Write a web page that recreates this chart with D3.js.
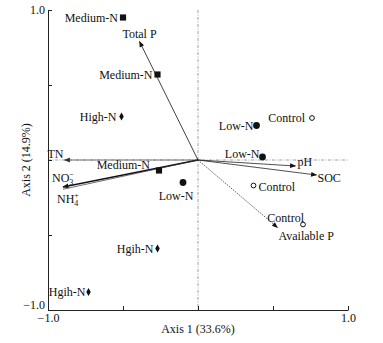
<!DOCTYPE html>
<html>
<head>
<meta charset="utf-8">
<script src="https://cdn.jsdelivr.net/npm/d3@7"></script>
<style>
  body { margin: 0; background: #fff; }
  text { font-family: "Liberation Serif", "Times New Roman", serif; fill: #111; }
</style>
</head>
<body>
<div class="ord-chart"></div>
<script>
// sample scores
const sampleNames = ["Medium-N", "Medium-N", "High-N", "Medium-N", "Low-N", "Hgih-N", "Hgih-N", "Control", "Low-N", "Low-N", "Control", "Control"];
const sampleGroups = ["medium", "medium", "high", "medium", "low", "high", "high", "control", "low", "low", "control", "control"];
const sampleAxis1 = [-0.50, -0.27, -0.51, -0.26, -0.10, -0.27, -0.73, 0.76, 0.39, 0.43, 0.37, 0.70];
const sampleAxis2 = [0.95, 0.57, 0.29, -0.07, -0.15, -0.59, -0.88, 0.28, 0.23, 0.02, -0.17, -0.43];

// environmental vectors
const envNames = ["Total P", "TN", "NO3", "NH4", "pH", "SOC", "Available P"];
const envAxis1 = [-0.39, -0.89, -0.90, -0.90, 0.65, 0.79, 0.53];
const envAxis2 = [0.79, 0.0, -0.18, -0.195, -0.04, -0.10, -0.45];

const tickValues = [-1, -0.5, 0, 0.5, 1];
const axis1Title = "Axis 1 (33.6%)";
const axis2Title = "Axis 2 (14.9%)";

// label placement [dx, dy, anchor]
const sampleLabelPos = [
  [-5, 4, "end"], [-5, 4, "end"], [-5, 4, "end"], [-9, -2, "end"], [-7, 17, "middle"],
  [-4, 4, "end"], [-3, 4, "end"], [-7, 4, "end"], [-3, 4, "end"], [-3, 1, "end"],
  [5, 5, "start"], [1, -3, "end"]
];
const envLabelPos = [
  [0, -4, "middle"], [-1, -2, "end"], [-11, -5, "start"], [-6, 14, "start"],
  [2, 0, "start"], [1, 7, "start"], [1, 12, "start"]
];
const envStyle = [
  { stroke: "#111", width: 0.8, dash: null },
  { stroke: "#555", width: 0.8, dash: null },
  { stroke: "#111", width: 1.3, dash: null },
  { stroke: "#333", width: 0.7, dash: null },
  { stroke: "#222", width: 0.8, dash: null },
  { stroke: "#222", width: 0.8, dash: null },
  { stroke: "#333", width: 0.8, dash: "1.5,1.2" }
];

const width = 383, height = 343;
const margin = { left: 48, top: 10, right: 35, bottom: 33 };

const svg = d3.select(".ord-chart").append("svg")
  .attr("width", width)
  .attr("height", height);

const x = d3.scaleLinear().domain([-1, 1]).range([margin.left, width - margin.right]);
const y = d3.scaleLinear().domain([-1, 1]).range([height - margin.bottom, margin.top]);

const fmt = d => (Math.abs(d) === 1 ? d3.format(".1f")(d) : "");

// zero lines
svg.append("line")
  .attr("x1", x(0)).attr("x2", x(0))
  .attr("y1", y(1)).attr("y2", y(-1))
  .attr("stroke", "#888").attr("stroke-width", 0.8)
  .attr("stroke-dasharray", "3,1.5,1,1.5");
svg.append("line")
  .attr("x1", x(-1)).attr("x2", x(1))
  .attr("y1", y(0)).attr("y2", y(0))
  .attr("stroke", "#888").attr("stroke-width", 0.8)
  .attr("stroke-dasharray", "3,1.5,1,1.5");

// axes
const xAxis = svg.append("g")
  .attr("transform", `translate(0,${y(-1)})`)
  .call(d3.axisBottom(x).tickValues(tickValues).tickFormat(fmt).tickSize(-4).tickSizeOuter(0).tickPadding(3));
const yAxis = svg.append("g")
  .attr("transform", `translate(${x(-1)},0)`)
  .call(d3.axisLeft(y).tickValues(tickValues).tickFormat(fmt).tickSize(-4).tickSizeOuter(0).tickPadding(3));

[xAxis, yAxis].forEach(g => {
  g.select(".domain").attr("stroke", "#222").attr("stroke-width", 1);
  g.selectAll(".tick line").attr("stroke", "#222");
  g.selectAll(".tick text").style("font-family", '"Liberation Serif", serif').style("font-size", "12px").attr("fill", "#111");
});
xAxis.selectAll(".tick text").attr("dy", "0.75em");
yAxis.selectAll(".tick text").attr("dy", d => (d === -1 ? "-0.15em" : "0.3em"));

svg.append("text")
  .attr("x", x(0)).attr("y", height - 10)
  .attr("text-anchor", "middle")
  .style("font-size", "12px")
  .text(axis1Title);
svg.append("text")
  .attr("transform", `translate(30,${y(0)}) rotate(-90)`)
  .attr("text-anchor", "middle")
  .style("font-size", "12px")
  .text(axis2Title);

// arrowhead marker
const defs = svg.append("defs");
envStyle.forEach((s, i) => {
  defs.append("marker")
    .attr("id", "arrow" + i)
    .attr("viewBox", "0 0 10 10")
    .attr("refX", 9).attr("refY", 5)
    .attr("markerUnits", "userSpaceOnUse")
    .attr("markerWidth", 7).attr("markerHeight", 6)
    .attr("orient", "auto")
    .append("path")
    .attr("d", "M0,1L10,5L0,9Z")
    .attr("fill", s.stroke === "#555" ? "#333" : "#111");
});

const envIdx = d3.range(envNames.length);
svg.selectAll(".env-line")
  .data(envIdx)
  .enter()
  .append("line")
  .attr("class", "env-line")
  .attr("x1", x(0)).attr("y1", y(0))
  .attr("x2", i => x(envAxis1[i]))
  .attr("y2", i => y(envAxis2[i]))
  .attr("stroke", i => envStyle[i].stroke)
  .attr("stroke-width", i => envStyle[i].width)
  .attr("stroke-dasharray", i => envStyle[i].dash)
  .attr("marker-end", i => (i === 3 ? null : `url(#arrow${i})`));

const envLabels = svg.selectAll(".env-label")
  .data(envIdx)
  .enter()
  .append("text")
  .attr("class", "env-label")
  .attr("x", i => x(envAxis1[i]) + envLabelPos[i][0])
  .attr("y", i => y(envAxis2[i]) + envLabelPos[i][1])
  .attr("text-anchor", i => envLabelPos[i][2])
  .style("font-size", "12px");

envLabels.each(function (i) {
  const t = d3.select(this);
  const name = envNames[i];
  if (name === "NO3" || name === "NH4") {
    t.append("tspan").text(name.slice(0, 2));
    t.append("tspan").text(name.slice(2)).style("font-size", "8px").attr("dy", 3);
    t.append("tspan").text(name === "NO3" ? "−" : "+").style("font-size", "8px").attr("dx", -4).attr("dy", -8);
  } else {
    t.text(name);
  }
});

// sample markers
const sym = {
  medium: d3.symbol().type(d3.symbolSquare).size(38),
  high: d3.symbol().type(d3.symbolDiamond).size(18),
  low: d3.symbol().type(d3.symbolCircle).size(36),
  control: d3.symbol().type(d3.symbolCircle).size(18)
};
const sampleIdx = d3.range(sampleNames.length);

svg.selectAll(".sample")
  .data(sampleIdx)
  .enter()
  .append("path")
  .attr("class", "sample")
  .attr("transform", i => `translate(${x(sampleAxis1[i])},${y(sampleAxis2[i])})`)
  .attr("d", i => sym[sampleGroups[i]]())
  .attr("fill", i => (sampleGroups[i] === "control" ? "#fff" : "#111"))
  .attr("stroke", "#111")
  .attr("stroke-width", i => (sampleGroups[i] === "control" ? 1 : 0));

svg.selectAll(".sample-label")
  .data(sampleIdx)
  .enter()
  .append("text")
  .attr("class", "sample-label")
  .attr("x", i => x(sampleAxis1[i]) + sampleLabelPos[i][0])
  .attr("y", i => y(sampleAxis2[i]) + sampleLabelPos[i][1])
  .attr("text-anchor", i => sampleLabelPos[i][2])
  .style("font-size", "12px")
  .text(i => sampleNames[i]);
</script>
</body>
</html>
